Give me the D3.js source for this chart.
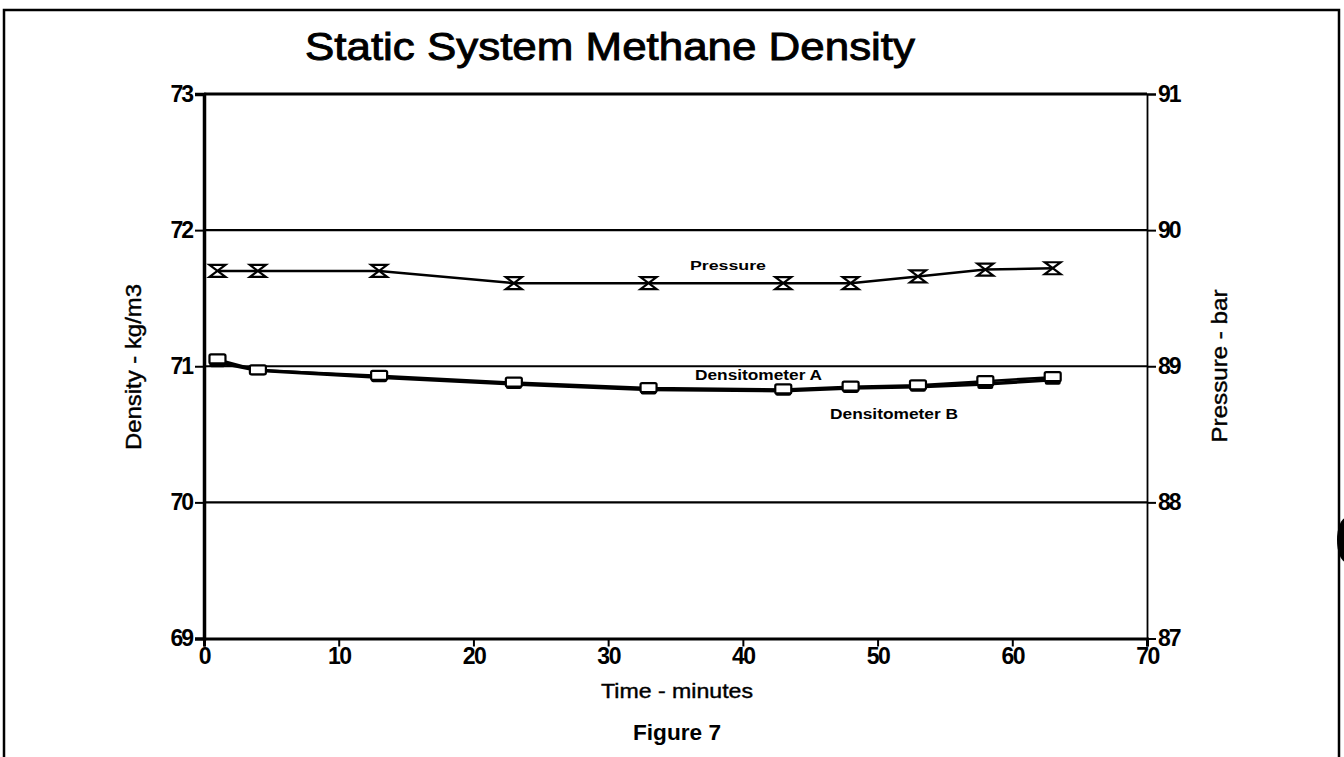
<!DOCTYPE html>
<html>
<head>
<meta charset="utf-8">
<script src="https://cdn.jsdelivr.net/npm/d3@7"></script>
<style>
  body { margin: 0; background: #fff; }
  svg { display: block; font-family: "Liberation Sans", Arial, sans-serif; }
</style>
</head>
<body>
<div id="graph"></div>
<script>
// data
const times = [1, 4, 13, 23, 33, 43, 48, 53, 58, 63];
const pressure = [89.70, 89.70, 89.70, 89.61, 89.61, 89.61, 89.61, 89.66, 89.71, 89.72];
const densA = [71.05, 70.97, 70.93, 70.88, 70.84, 70.83, 70.85, 70.86, 70.89, 70.92];
const densB = [71.03, 70.97, 70.92, 70.87, 70.83, 70.82, 70.84, 70.85, 70.87, 70.90];
const xTicks = [0, 10, 20, 30, 40, 50, 60, 70];
const leftTicks = [69, 70, 71, 72, 73];
const rightTicks = [87, 88, 89, 90, 91];

const W = 1344, H = 757;
const margin = {top: 94, right: 197, bottom: 118, left: 204};

const svg = d3.select("#graph")
  .append("svg")
    .attr("width", W)
    .attr("height", H);

// page frame
svg.append("path")
  .attr("d", `M4,${H} V10 H1339 V${H}`)
  .attr("fill", "none").attr("stroke", "#000").attr("stroke-width", 2.5);
svg.append("ellipse")
  .attr("cx", 1346).attr("cy", 540).attr("rx", 9).attr("ry", 22).attr("fill", "#000");

const x = d3.scaleLinear().domain([0, 70]).range([margin.left, W - margin.right]);
const yL = d3.scaleLinear().domain([69, 73]).range([H - margin.bottom - 0.5, margin.top]);
const yR = d3.scaleLinear().domain([87, 91]).range([H - margin.bottom - 0.5, margin.top]);

// title
svg.append("text")
  .attr("x", 610).attr("y", 60)
  .attr("text-anchor", "middle")
  .attr("font-size", 38)
  .attr("stroke", "#000").attr("stroke-width", 0.9)
  .attr("textLength", 610).attr("lengthAdjust", "spacingAndGlyphs")
  .text("Static System Methane Density");

// horizontal grid lines
svg.append("g").selectAll("line")
  .data(leftTicks.slice(1))
  .join("line")
    .attr("x1", x(0)).attr("x2", x(70))
    .attr("y1", d => yL(d)).attr("y2", d => yL(d))
    .attr("stroke", "#000").attr("stroke-width", d => d === 73 ? 3 : 2.2);

function styleTicks(g) {
  g.selectAll(".tick line").attr("stroke-width", 2);
  g.selectAll("text").attr("font-size", 23).attr("font-weight", "bold").attr("fill", "#000")
    .attr("letter-spacing", -2).attr("font-family", "Liberation Sans, Arial");
}

// left axis
const axL = svg.append("g")
  .attr("transform", `translate(${x(0)},0)`)
  .call(d3.axisLeft(yL).tickValues(leftTicks).tickFormat(d3.format("d")).tickSize(9).tickPadding(3));
axL.select(".domain").attr("stroke-width", 3.5);
styleTicks(axL);

// right axis
const axR = svg.append("g")
  .attr("transform", `translate(${x(70)},0)`)
  .call(d3.axisRight(yR).tickValues(rightTicks).tickFormat(d3.format("d")).tickSize(9).tickPadding(2));
axR.select(".domain").attr("stroke-width", 1.8);
styleTicks(axR);

// bottom axis
const axB = svg.append("g")
  .attr("transform", `translate(0,${yL(69)})`)
  .call(d3.axisBottom(x).tickValues(xTicks).tickFormat(d3.format("d")).tickSize(8).tickPadding(1));
axB.select(".domain").attr("stroke-width", 3);
styleTicks(axB);
axB.selectAll("text").attr("letter-spacing", -1.5);

// axis titles
svg.append("text")
  .attr("transform", "translate(141,367) rotate(-90)")
  .attr("text-anchor", "middle").attr("font-size", 22)
  .attr("stroke", "#000").attr("stroke-width", 0.4)
  .attr("textLength", 166).attr("lengthAdjust", "spacingAndGlyphs")
  .text("Density - kg/m3");
svg.append("text")
  .attr("transform", "translate(1227,366) rotate(-90)")
  .attr("text-anchor", "middle").attr("font-size", 22)
  .attr("stroke", "#000").attr("stroke-width", 0.4)
  .attr("textLength", 153).attr("lengthAdjust", "spacingAndGlyphs")
  .text("Pressure - bar");
svg.append("text")
  .attr("x", 677).attr("y", 698)
  .attr("text-anchor", "middle").attr("font-size", 20)
  .attr("stroke", "#000").attr("stroke-width", 0.4)
  .attr("textLength", 152).attr("lengthAdjust", "spacingAndGlyphs")
  .text("Time - minutes");
svg.append("text")
  .attr("x", 677).attr("y", 740)
  .attr("text-anchor", "middle").attr("font-size", 22).attr("font-weight", "bold")
  .attr("textLength", 88).attr("lengthAdjust", "spacingAndGlyphs")
  .text("Figure 7");

// series
const pData = times.map((t, i) => ({t, v: pressure[i]}));
const aData = times.map((t, i) => ({t, v: densA[i]}));
const bData = times.map((t, i) => ({t, v: densB[i]}));

const lineR = d3.line().x(d => x(d.t)).y(d => yR(d.v));
const lineL = d3.line().x(d => x(d.t)).y(d => yL(d.v));

svg.append("path").datum(bData).attr("d", lineL)
  .attr("fill", "none").attr("stroke", "#000").attr("stroke-width", 3.5);
svg.append("path").datum(aData).attr("d", lineL)
  .attr("fill", "none").attr("stroke", "#000").attr("stroke-width", 2.5);
svg.append("path").datum(pData).attr("d", lineR)
  .attr("fill", "none").attr("stroke", "#000").attr("stroke-width", 2.5);

// densitometer B markers (filled)
svg.append("g").selectAll("rect")
  .data(bData)
  .join("rect")
    .attr("x", d => x(d.t) - 8).attr("y", d => yL(d.v) - 5)
    .attr("width", 16).attr("height", 10).attr("rx", 2)
    .attr("fill", "#000");

// densitometer A markers (open)
svg.append("g").selectAll("rect")
  .data(aData)
  .join("rect")
    .attr("x", d => x(d.t) - 8).attr("y", d => yL(d.v) - 5)
    .attr("width", 16).attr("height", 9).attr("rx", 1.5)
    .attr("fill", "#fff").attr("stroke", "#000").attr("stroke-width", 2.2);

// pressure markers (hourglass)
svg.append("g").selectAll("path")
  .data(pData)
  .join("path")
    .attr("transform", d => `translate(${x(d.t)},${yR(d.v)})`)
    .attr("d", "M-8,-6 H8 L-8,6 H8 Z")
    .attr("fill", "#fff").attr("stroke", "#000").attr("stroke-width", 2.2)
    .attr("stroke-linejoin", "miter");

// series labels
svg.append("text").attr("x", 690).attr("y", 270)
  .attr("font-size", 13).attr("font-weight", "bold")
  .attr("textLength", 76).attr("lengthAdjust", "spacingAndGlyphs")
  .text("Pressure");
svg.append("text").attr("x", 695).attr("y", 380)
  .attr("font-size", 14).attr("font-weight", "bold")
  .attr("textLength", 127).attr("lengthAdjust", "spacingAndGlyphs")
  .text("Densitometer A");
svg.append("text").attr("x", 830).attr("y", 419)
  .attr("font-size", 14).attr("font-weight", "bold")
  .attr("textLength", 128).attr("lengthAdjust", "spacingAndGlyphs")
  .text("Densitometer B");
</script>
</body>
</html>
